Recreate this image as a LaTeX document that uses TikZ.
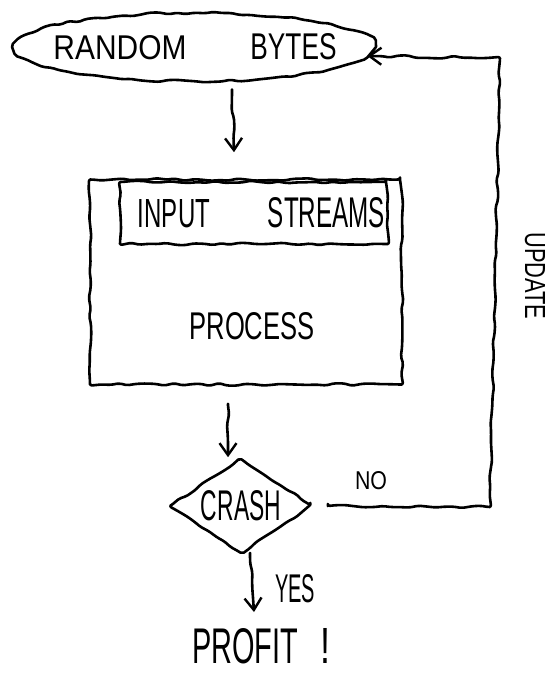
\documentclass[tikz,border=0pt]{standalone}
\usepackage{fontspec}
\setmainfont{Liberation Sans}
\usepackage{graphicx}
\usetikzlibrary{shapes.geometric,decorations.pathmorphing,arrows.meta,calc}
\newcommand{\hw}[3]{\resizebox{#1pt}{#2pt}{#3}}
\begin{document}
\begin{tikzpicture}[x=1pt,y=-1pt,
  sk/.style={line width=2.6pt, decorate,
    decoration={random steps,segment length=9pt,amplitude=1.3pt,post length=16pt},
    rounded corners=2pt, line join=round, line cap=round},
  arr/.style={sk, -{Straight Barb[length=12pt,width=17pt,line width=2.4pt]}},
  lbl/.style={inner sep=0pt}]
\pgfmathsetseed{7}
\useasboundingbox (0,0) rectangle (547,677);

% nodes
\node[sk,draw,ellipse,minimum width=362pt,minimum height=68pt,inner xsep=-14pt,inner ysep=11pt] (rb) at (195,47)
  {\hw{133}{24}{RANDOM}\hspace{64pt}\hw{86}{26}{BYTES}};
\node[sk,draw,rectangle,minimum width=312pt,minimum height=205pt,inner sep=0pt] (proc) at (246,282) {};
\node[sk,draw,rectangle,minimum width=268pt,minimum height=62pt,inner sep=0pt] (inp) at (254,213)
  {\hspace*{15pt}\hw{72}{28}{INPUT}\hspace{58pt}\hw{117}{30}{STREAMS}};
\node[lbl] (plbl) at (252,326) {\hw{125}{27}{PROCESS}};
\node[sk,draw,diamond,aspect=1.5,minimum width=143pt,minimum height=95pt,inner sep=0pt] (crash) at (241,506)
  {\hw{80}{30}{CRASH}};
\node[lbl] (profit) at (261,646) {\hw{106}{35}{PROFIT}\hspace{22pt}\hw{10}{35}{!}};
\node[lbl] (no) at (371,481) {\hw{32}{18}{NO}};
\node[lbl] (yes) at (295,589) {\hw{40}{28}{YES}};
\node[lbl,rotate=-90] (upd) at (535,276) {\hw{87}{20}{UPDATE}};

\coordinate (c1) at (490,507);
\coordinate (c2) at (500,58);

% connectors
\draw[arr] ([xshift=37pt,yshift=-9pt]rb.south) -- ([xshift=-12pt,yshift=26pt]proc.north);
\draw[arr] ([xshift=-18pt,yshift=-20pt]proc.south) -- ([xshift=-13pt]crash.north);
\draw[arr] ([xshift=9pt]crash.south) -- ([xshift=-7pt,yshift=16pt]profit.north);
\draw[arr] ([xshift=14pt]crash.east) -- (c1) -- (c2) -- ([xshift=-10pt,yshift=-9pt]rb.east);
\end{tikzpicture}
\end{document}
